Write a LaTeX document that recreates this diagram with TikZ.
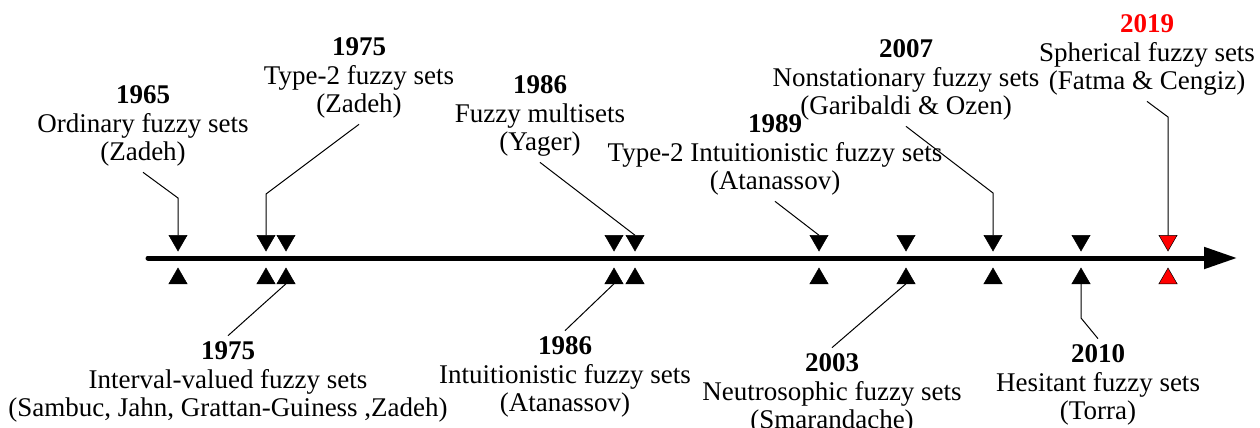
\documentclass[tikz,border=0pt]{standalone}
\usepackage{fontspec}
\setmainfont{Liberation Serif}
\usetikzlibrary{arrows.meta,positioning,shapes.geometric}
\definecolor{Ink}{HTML}{000000}
\definecolor{Hot}{HTML}{FF0000}
\tikzset{
  axisarrow/.style={-{Triangle[length=33pt,width=21pt]}, line width=5pt, line cap=round, draw=Ink},
  leadline/.style={line width=1pt, draw=Ink},
  markbase/.style={regular polygon, regular polygon sides=3, minimum size=21pt, inner sep=0pt, outer sep=0pt, draw=Ink, line width=0.5pt, fill=Ink},
  downmark/.style={markbase, shape border rotate=180},
  upmark/.style={markbase},
  eventlabel/.style={align=center, inner sep=0pt, outer sep=6pt, font=\fontsize{27}{28.5}\selectfont, text=Ink},
}

\begin{document}
\begin{tikzpicture}[x=1pt,y=-1pt]
\path[use as bounding box] (0,0) rectangle (1260,428);

% time axis
\coordinate (axisstart) at (148,258);
\coordinate (axisend) at (1237,258);
\draw[axisarrow] (axisstart) -- (axisend);

% marks above and below the axis
\foreach \x/\n in {178/o65, 266/t75, 286/i75, 614/i86, 635/m86, 819/t89, 906/n03, 993/s07, 1081/h10}{
  \node[downmark] (d\n) at (\x,240.5) {};
  \node[upmark] (u\n) at (\x,278.5) {};
}
\node[downmark,fill=Hot] (ds19) at (1168,240.5) {};
\node[upmark,fill=Hot] (us19) at (1168,278.5) {};

% events above
\node[eventlabel] (o65) at (143,126) {\textbf{1965}\\Ordinary fuzzy sets\\(Zadeh)};
\node[eventlabel] (t75) at (359,78) {\textbf{1975}\\Type-2 fuzzy sets\\(Zadeh)};
\node[eventlabel] (m86) at (540,116) {\textbf{1986}\\Fuzzy multisets\\(Yager)};
\node[eventlabel] (t89) at (775,155) {\textbf{1989}\\Type-2 Intuitionistic fuzzy sets\\(Atanassov)};
\node[eventlabel] (s07) at (906,80) {\textbf{2007}\\Nonstationary fuzzy sets\\(Garibaldi \& Ozen)};
\node[eventlabel] (s19) at (1147,55) {\textcolor{Hot}{\textbf{2019}}\\Spherical fuzzy sets\\(Fatma \& Cengiz)};

% events below
\node[eventlabel] (i75) at (228,382) {\textbf{1975}\\Interval-valued fuzzy sets\\(Sambuc, Jahn, Grattan-Guiness ,Zadeh)};
\node[eventlabel] (i86) at (565,377) {\textbf{1986}\\Intuitionistic fuzzy sets\\(Atanassov)};
\node[eventlabel] (n03) at (832,394) {\textbf{2003}\\Neutrosophic fuzzy sets\\(Smarandache)};
\node[eventlabel] (h10) at (1098,385) {\textbf{2010}\\Hesitant fuzzy sets\\(Torra)};

% leader lines
\coordinate (bo65) at (178,198);
\coordinate (bt75) at (266,194);
\coordinate (bs07) at (993,193);
\coordinate (bs19) at (1168,117);
\coordinate (bh10) at (1081,318);
\draw[leadline] (o65.south) -- (bo65) -- (do65.north);
\draw[leadline] (t75.south) -- (bt75) -- (dt75.north);
\draw[leadline] (m86.south) -- (dm86.north);
\draw[leadline] (t89.south) -- (dt89.north);
\draw[leadline] (s07.south) -- (bs07) -- (ds07.north);
\draw[leadline] (s19.south) -- (bs19) -- (ds19.north);
\draw[leadline] (ui75.south) -- (i75.north);
\draw[leadline] (ui86.south) -- (i86.north);
\draw[leadline] (un03.south) -- (n03.north);
\draw[leadline] (uh10.south) -- (bh10) -- (h10.north);
\end{tikzpicture}
\end{document}
